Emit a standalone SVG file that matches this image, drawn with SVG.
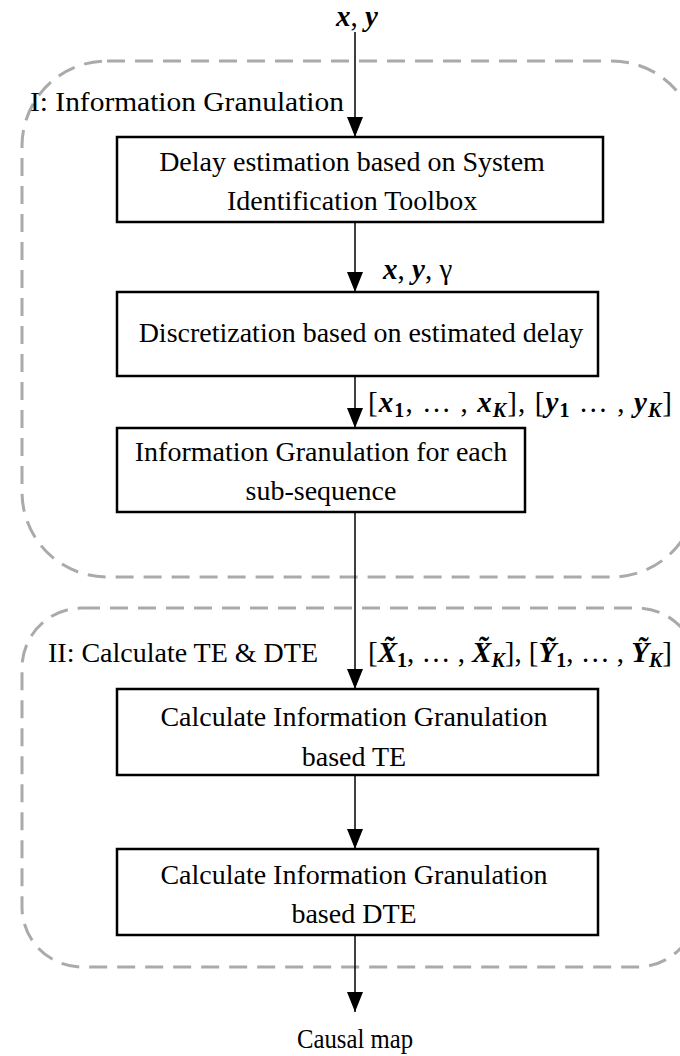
<svg xmlns="http://www.w3.org/2000/svg" width="680" height="1056" viewBox="0 0 680 1056">
<style>
.region{fill:none;stroke:#aaaaaa;stroke-width:3;stroke-dasharray:18 10}
.box{fill:#fff;stroke:#000;stroke-width:2.5}
.t{font-family:"Liberation Serif",serif;font-size:28px;fill:#000}
.m{font-family:"Liberation Serif",serif;font-size:29px;fill:#000}
.bi{font-weight:bold;font-style:italic}
.sub{font-size:20px;font-weight:bold}
.edge{stroke:#000;stroke-width:1.5;fill:none;marker-end:url(#arr)}
</style>
<defs>
<marker id="arr" markerUnits="userSpaceOnUse" markerWidth="20" markerHeight="16" refX="20" refY="8" orient="auto">
<path d="M0,0 L20,8 L0,16 z" fill="#000"/>
</marker>
</defs>
<rect width="680" height="1056" fill="#fff"/>
<g id="regionI">
<rect class="region" x="22" y="61" width="675" height="516" rx="85" ry="85"/>
<text class="t" x="30" y="111" textLength="314" lengthAdjust="spacingAndGlyphs">I: Information Granulation</text>
</g>
<g id="regionII">
<rect class="region" x="22" y="608" width="675" height="359" rx="60" ry="60"/>
<text class="t" x="48" y="662" textLength="270" lengthAdjust="spacingAndGlyphs">II: Calculate TE &amp; DTE</text>
</g>
<g id="connectors">
<line class="edge" x1="355" y1="32" x2="355" y2="137"/>
<line class="edge" x1="355" y1="222" x2="355" y2="292"/>
<line class="edge" x1="355" y1="376" x2="355" y2="428"/>
<line class="edge" x1="355" y1="512" x2="355" y2="689"/>
<line class="edge" x1="355" y1="775" x2="355" y2="849"/>
<line class="edge" x1="355" y1="935" x2="355" y2="1012"/>
<text class="m" x="357" y="26" text-anchor="middle"><tspan class="bi">x</tspan>, <tspan class="bi">y</tspan></text>
<text class="m" x="383" y="279"><tspan class="bi">x</tspan>, <tspan class="bi">y</tspan>, γ</text>
<text class="m" x="368" y="412" textLength="304" lengthAdjust="spacing">[<tspan class="bi">x</tspan><tspan class="sub" dy="5">1</tspan><tspan dy="-5">, … ,  </tspan><tspan class="bi">x</tspan><tspan class="sub bi" dy="5">K</tspan><tspan dy="-5">], [</tspan><tspan class="bi">y</tspan><tspan class="sub" dy="5">1</tspan><tspan dy="-5">  … ,  </tspan><tspan class="bi">y</tspan><tspan class="sub bi" dy="5">K</tspan><tspan dy="-5">]</tspan></text>
<text class="m" x="368" y="662" textLength="304" lengthAdjust="spacing">[<tspan class="bi">X̃</tspan><tspan class="sub" dy="5">1</tspan><tspan dy="-5">, … ,  </tspan><tspan class="bi">X̃</tspan><tspan class="sub bi" dy="5">K</tspan><tspan dy="-5">], [</tspan><tspan class="bi">Ỹ</tspan><tspan class="sub" dy="5">1</tspan><tspan dy="-5">, … , </tspan><tspan class="bi">Ỹ</tspan><tspan class="sub bi" dy="5">K</tspan><tspan dy="-5">]</tspan></text>
<text class="t" x="355" y="1048" text-anchor="middle" textLength="116" lengthAdjust="spacingAndGlyphs">Causal map</text>
</g>
<g id="n1">
<rect class="box" x="117" y="137" width="486" height="85"/>
<text class="t" x="352" y="171" text-anchor="middle">Delay estimation based on System</text>
<text class="t" x="352" y="210" text-anchor="middle">Identification Toolbox</text>
</g>
<g id="n2">
<rect class="box" x="117" y="292" width="481" height="84"/>
<text class="t" x="361" y="342" text-anchor="middle">Discretization based on estimated delay</text>
</g>
<g id="n3">
<rect class="box" x="117" y="428" width="408" height="84"/>
<text class="t" x="321" y="461" text-anchor="middle">Information Granulation for each</text>
<text class="t" x="321" y="500" text-anchor="middle">sub-sequence</text>
</g>
<g id="n4">
<rect class="box" x="117" y="689" width="481" height="86"/>
<text class="t" x="354" y="726" text-anchor="middle">Calculate Information Granulation</text>
<text class="t" x="354" y="766" text-anchor="middle">based TE</text>
</g>
<g id="n5">
<rect class="box" x="117" y="849" width="481" height="86"/>
<text class="t" x="354" y="884" text-anchor="middle">Calculate Information Granulation</text>
<text class="t" x="354" y="923" text-anchor="middle">based DTE</text>
</g>
</svg>
